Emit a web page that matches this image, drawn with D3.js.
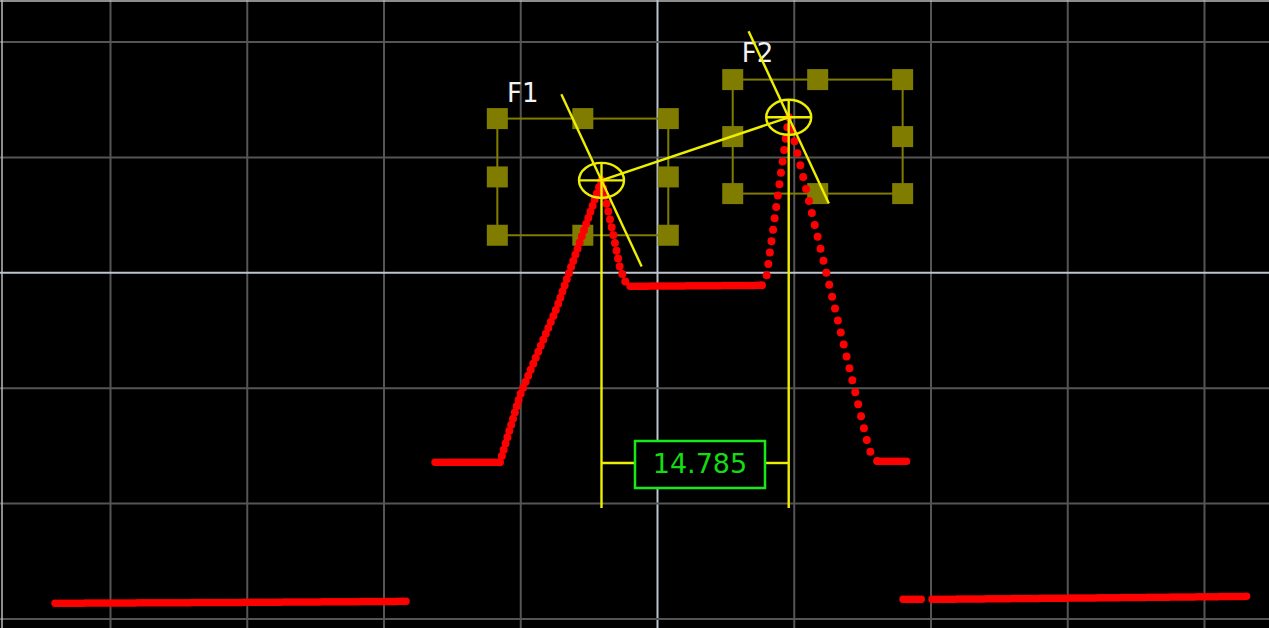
<!DOCTYPE html>
<html>
<head>
<meta charset="utf-8">
<script src="https://cdn.jsdelivr.net/npm/d3@7"></script>
<style>
  html, body { margin: 0; padding: 0; background: #000; }
  svg { display: block; }
</style>
</head>
<body>
<svg id="scope" width="1269" height="628"></svg>
<script>
// ---- grid divisions (time on x, amplitude divisions on y) ----
const xTicks = [-43.2, -32.4, -21.6, -10.8, 0, 10.8, 21.6, 32.4, 43.2];
const yTicks = [-3, -2, -1, 0, 1, 2];

// ---- captured trace, one array per run of samples ----
const baseLeft   = [[-47.54, -2.868], [-32.14, -2.860], [-19.67, -2.851]];
const shelfLeft  = [[-17.53, -1.646], [-12.40, -1.646]];
const riseF1     = [[-12.40, -1.646], [-10.82, -1.066], [-7.90, -0.303], [-4.383, 0.797]];
const fallF1     = [[-4.383, 0.797], [-3.475, 0.338], [-2.92, 0.035], [-2.45, -0.095], [-2.13, -0.121]];
const valley     = [[-2.13, -0.121], [8.29, -0.113]];
const riseF2     = [[8.29, -0.113], [8.61, -0.069], [10.402, 1.343]];
const fallF2     = [[10.402, 1.343], [16.67, -1.499], [17.06, -1.620], [17.45, -1.638]];
const shelfRight = [[17.45, -1.638], [19.74, -1.638]];
const baseRightA = [[19.43, -2.834], [21.01, -2.834]];
const baseRightB = [[21.72, -2.834], [34.99, -2.821], [46.68, -2.808]];

// ---- cursors F1 / F2 ----
const cursorNames = ["F1", "F2"];
const cursorX = [-4.383, 10.402];
const cursorY = [0.797, 1.343];

// ---- selection boxes around each cursor: [x0, x1, yTop, yBottom] ----
const boxF1 = [-12.61, 0.892, 1.332, 0.321];
const boxF2 = [5.98, 19.40, 1.670, 0.682];

const W = 1269, H = 628;
const svg = d3.select("#scope");

const x = d3.scaleLinear().domain([-43.2, 43.2]).range([110, 1204]);
const y = d3.scaleLinear().domain([-3, 2]).range([618.5, 41.5]);

// ---- grid ----
const gridX = svg.append("g")
  .attr("transform", `translate(0,${H})`)
  .call(d3.axisBottom(x).tickValues(xTicks).tickSize(-H).tickFormat(""));
const gridY = svg.append("g")
  .call(d3.axisLeft(y).tickValues(yTicks).tickSize(-W).tickFormat(""));
[gridX, gridY].forEach(g => {
  g.select(".domain").remove();
  g.selectAll(".tick line")
    .attr("stroke", d => d === 0 ? "#bcc4d0" : "#555555")
    .attr("stroke-width", 2);
});
gridY.selectAll(".tick line").attr("x1", 0).attr("x2", W);

// frame edges
svg.append("line").attr("x1", 0).attr("x2", W).attr("y1", 1).attr("y2", 1)
  .attr("stroke", "#bdbdbd").attr("stroke-width", 1.5);
svg.append("line").attr("x1", 2).attr("x2", 2).attr("y1", 0).attr("y2", H)
  .attr("stroke", "#bdbdbd").attr("stroke-width", 1.5);

// ---- olive selection boxes with handles ----
const olive = "#7f7c00";
[boxF1, boxF2].forEach(b => {
  const x0 = x(b[0]), x1 = x(b[1]), y0 = y(b[2]), y1 = y(b[3]);
  const g = svg.append("g");
  g.append("rect")
    .attr("x", x0).attr("y", y0).attr("width", x1 - x0).attr("height", y1 - y0)
    .attr("fill", "none").attr("stroke", olive).attr("stroke-width", 2);
  const xm = (x0 + x1) / 2, ym = (y0 + y1) / 2;
  const handles = [[x0, y0], [xm, y0], [x1, y0], [x0, ym], [x1, ym], [x0, y1], [xm, y1], [x1, y1]];
  g.selectAll("rect.h").data(handles).join("rect")
    .attr("class", "h")
    .attr("x", d => d[0] - 10.5).attr("y", d => d[1] - 10.5)
    .attr("width", 21).attr("height", 21)
    .attr("fill", olive);
});

// ---- red dotted trace ----
const runs = [
  { pts: baseLeft, gap: 2.6 },
  { pts: shelfLeft, gap: 2.6 },
  { pts: riseF1, gap: 6.5 },
  { pts: fallF1, gap: 8 },
  { pts: valley, gap: 2.6 },
  { pts: riseF2, gap: 11.5 },
  { pts: fallF2, gap: 12.3 },
  { pts: shelfRight, gap: 2.6 },
  { pts: baseRightA, gap: 2.6 },
  { pts: baseRightB, gap: 2.6 }
];
const line = d3.line().x(d => x(d[0])).y(d => y(d[1]));
svg.append("g").selectAll("path").data(runs).join("path")
  .attr("d", d => line(d.pts))
  .attr("fill", "none")
  .attr("stroke", "#ff0000")
  .attr("stroke-width", d => d.gap > 3 ? 8 : 7.5)
  .attr("stroke-linecap", "round")
  .attr("stroke-linejoin", "round")
  .attr("stroke-dasharray", d => `0 ${d.gap}`);

// ---- cursor labels ----
const labelOffset = [[-94.5, -78], [-47, -55]];
svg.append("g").selectAll("text").data(cursorNames).join("text")
  .attr("x", (d, i) => x(cursorX[i]) + labelOffset[i][0])
  .attr("y", (d, i) => y(cursorY[i]) + labelOffset[i][1])
  .attr("fill", "#f2f2f2")
  .attr("font-family", "DejaVu Sans, sans-serif")
  .attr("font-size", 26)
  .text(d => d);

// ---- yellow cursor overlays ----
const yellow = "#eeee00";
const rx = 22.5, ry = 17.5, half = 95, tilt = 25 * Math.PI / 180;
const measureY = 463, measureBottom = 508;
const ov = svg.append("g").attr("stroke", yellow).attr("stroke-width", 2.4).attr("fill", "none");

ov.append("line")
  .attr("x1", x(cursorX[0])).attr("y1", y(cursorY[0]))
  .attr("x2", x(cursorX[1])).attr("y2", y(cursorY[1]));

cursorX.forEach((cxv, i) => {
  const cx = x(cxv), cy = y(cursorY[i]);
  ov.append("ellipse").attr("cx", cx).attr("cy", cy).attr("rx", rx).attr("ry", ry);
  ov.append("line").attr("x1", cx - rx).attr("x2", cx + rx).attr("y1", cy).attr("y2", cy);
  ov.append("line").attr("x1", cx).attr("x2", cx).attr("y1", cy - ry).attr("y2", measureBottom);
  ov.append("line")
    .attr("x1", cx - half * Math.sin(tilt)).attr("y1", cy - half * Math.cos(tilt))
    .attr("x2", cx + half * Math.sin(tilt)).attr("y2", cy + half * Math.cos(tilt));
});

// ---- distance readout between cursors ----
const dist = cursorX[1] - cursorX[0];
const boxW = 130, boxH = 47, boxCx = 700;
ov.append("line")
  .attr("x1", x(cursorX[0])).attr("x2", boxCx - boxW / 2)
  .attr("y1", measureY).attr("y2", measureY);
ov.append("line")
  .attr("x1", boxCx + boxW / 2).attr("x2", x(cursorX[1]))
  .attr("y1", measureY).attr("y2", measureY);

svg.append("rect")
  .attr("x", boxCx - boxW / 2).attr("y", measureY - boxH / 2 + 1.5)
  .attr("width", boxW).attr("height", boxH)
  .attr("fill", "#000").attr("stroke", "#18e818").attr("stroke-width", 2.5);
svg.append("text")
  .attr("x", boxCx).attr("y", measureY + 10)
  .attr("text-anchor", "middle")
  .attr("fill", "#12dc12")
  .attr("font-family", "DejaVu Sans, sans-serif")
  .attr("font-size", 27)
  .text(d3.format(".3f")(dist));
</script>
</body>
</html>
